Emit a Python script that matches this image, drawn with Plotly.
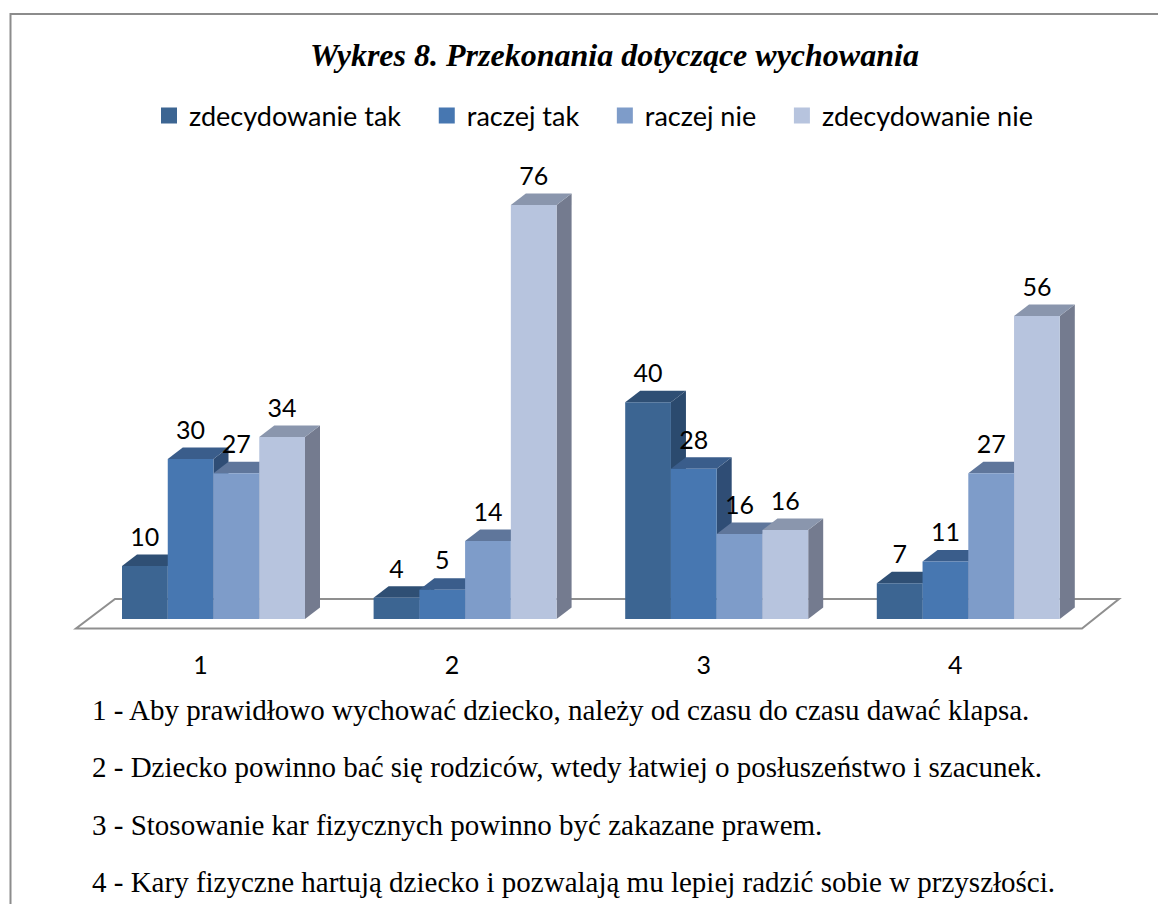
import plotly.graph_objects as go

W, H = 1158, 904
categories = [1, 2, 3, 4]
tick_labels = ["1", "2", "3", "4"]
series_names = ["zdecydowanie tak", "raczej tak", "raczej nie", "zdecydowanie nie"]
zdecydowanie_tak = [9.8, 3.9, 40.0, 6.6]
raczej_tak = [29.5, 5.4, 27.7, 10.6]
raczej_nie = [26.9, 14.4, 15.7, 26.9]
zdecydowanie_nie = [33.6, 76.4, 16.4, 55.9]
series_values = [zdecydowanie_tak, raczej_tak, raczej_nie, zdecydowanie_nie]
front_colors = ["#3c6592", "#4777b1", "#7e9cc9", "#b7c4de"]
top_colors = ["#2f4f74", "#3a5d8b", "#5f769b", "#8a96ad"]
side_colors = ["#2b4a6e", "#2f4d75", "#536a8e", "#747b8f"]
notes = [
    "1 - Aby prawidłowo wychować dziecko, należy od czasu do czasu dawać klapsa.",
    "2 - Dziecko powinno bać się rodziców, wtedy łatwiej o posłuszeństwo i szacunek.",
    "3 - Stosowanie kar fizycznych powinno być zakazane prawem.",
    "4 - Kary fizyczne hartują dziecko i pozwalają mu lepiej radzić sobie w przyszłości.",
]
title = "Wykres 8. Przekonania dotyczące wychowania"

# pixel-to-axis geometry
PX_PER_CAT = 251.6
PX_PER_VAL = 5.42
X0_PX, Y0_PX = 213.5, 619.0
PLOT_TOP, PLOT_BOT = 150.0, 648.0
BAR_W = 183.0 / 4 / PX_PER_CAT
DX = 15.0 / PX_PER_CAT
DY = 11.5 / PX_PER_VAL
LABEL_OFF = 26.5 / PX_PER_VAL
TICK_SHIFT = 13.0 / PX_PER_CAT
LEGEND_PAD = "\u00a0\u00a0\u00a0"

xr = [1 - X0_PX / PX_PER_CAT, 1 + (W - X0_PX) / PX_PER_CAT]
yr = [-(PLOT_BOT - Y0_PX) / PX_PER_VAL, (Y0_PX - PLOT_TOP) / PX_PER_VAL]

fig = go.Figure()


def bar_x(c, s):
    return c + (s - 2) * BAR_W


# depth faces, painted left to right (under the fronts)
for ci, c in enumerate(categories):
    for s in range(4):
        v = series_values[s][ci]
        l = bar_x(c, s)
        r = l + BAR_W
        fig.add_trace(go.Scatter(
            x=[r, r + DX, r + DX, r, r], y=[0, DY, v + DY, v, 0], mode="lines",
            fill="toself", fillcolor=side_colors[s], line=dict(width=0),
            showlegend=False, hoverinfo="skip"))
        fig.add_trace(go.Scatter(
            x=[l, r, r + DX, l + DX, l], y=[v, v, v + DY, v + DY, v], mode="lines",
            fill="toself", fillcolor=top_colors[s], line=dict(width=0),
            showlegend=False, hoverinfo="skip"))

# fronts on an overlaying axis pair so they cover the faces
for s in range(4):
    fig.add_trace(go.Bar(
        x=categories, y=series_values[s], name=series_names[s], xaxis="x2", yaxis="y2",
        marker=dict(color=front_colors[s], line=dict(width=0)), showlegend=False))
    fig.add_trace(go.Scatter(
        x=[None], y=[None], name=series_names[s] + (LEGEND_PAD if s < 3 else ""),
        mode="markers", xaxis="x2", yaxis="y2",
        marker=dict(symbol="square", size=16, color=front_colors[s])))

# data labels
for s in range(4):
    fig.add_trace(go.Scatter(
        x=[bar_x(c, s) + BAR_W / 2 for c in categories],
        y=[v + LABEL_OFF for v in series_values[s]],
        text=[f"{v:.0f}" for v in series_values[s]],
        mode="text", textposition="middle center", xaxis="x2", yaxis="y2",
        textfont=dict(family="Lato", size=25, color="#000000"),
        showlegend=False, hoverinfo="skip"))

shapes = [
    dict(type="path", xref="paper", yref="paper",
         path=f"M{10.5 / W},0 L{10.5 / W},{1 - 14 / H} L1,{1 - 14 / H}",
         line=dict(color="#8c8c8c", width=2), layer="below"),
    dict(type="path", xref="paper", yref="paper",
         path=" ".join([
             f"M{76 / W},{1 - 628.5 / H}", f"L{1082 / W},{1 - 628.5 / H}",
             f"L{1119 / W},{1 - 599 / H}", f"L{115 / W},{1 - 599 / H}", "Z"]),
         line=dict(color="#8f8f8f", width=2), layer="below"),
]

annotations = [dict(
    text=f"<b><i>{title}</i></b>", xref="paper", yref="paper", x=614 / W, y=1 - 55 / H,
    showarrow=False, xanchor="center", yanchor="middle",
    font=dict(family="Liberation Serif", size=32, color="#000000"))]
for n, py in zip(notes, [710, 767, 825, 882]):
    annotations.append(dict(
        text=n, xref="paper", yref="paper", x=90 / W, y=1 - py / H, showarrow=False,
        xanchor="left", yanchor="middle",
        font=dict(family="Liberation Serif", size=29, color="#000000")))

dom_y = [1 - PLOT_BOT / H, 1 - PLOT_TOP / H]
fig.update_layout(
    width=W, height=H, margin=dict(l=0, r=0, t=0, b=0, pad=0), autosize=False,
    paper_bgcolor="white", plot_bgcolor="rgba(0,0,0,0)",
    barmode="group", bargap=1 - 183 / PX_PER_CAT, bargroupgap=0,
    xaxis=dict(domain=[0, 1], range=xr, visible=False),
    yaxis=dict(domain=dom_y, range=yr, visible=False),
    xaxis2=dict(domain=[0, 1], range=xr, overlaying="x", anchor="y2", showgrid=False, zeroline=False,
                showline=False, ticks="", tickmode="array",
                tickvals=[c - TICK_SHIFT for c in categories], ticktext=tick_labels,
                tickfont=dict(family="Lato", size=25, color="#000000")),
    yaxis2=dict(domain=dom_y, range=yr, overlaying="y", anchor="x2", visible=False),
    legend=dict(orientation="h", x=149 / W, y=1 - 116 / H, xanchor="left", yanchor="middle",
                font=dict(family="Lato", size=27, color="#000000"),
                bgcolor="rgba(0,0,0,0)", traceorder="normal"),
    shapes=shapes, annotations=annotations, showlegend=True,
)

fig.write_html("out.html", config={"displayModeBar": False},
               post_script="document.body.style.margin='0';document.body.style.overflow='hidden';")
